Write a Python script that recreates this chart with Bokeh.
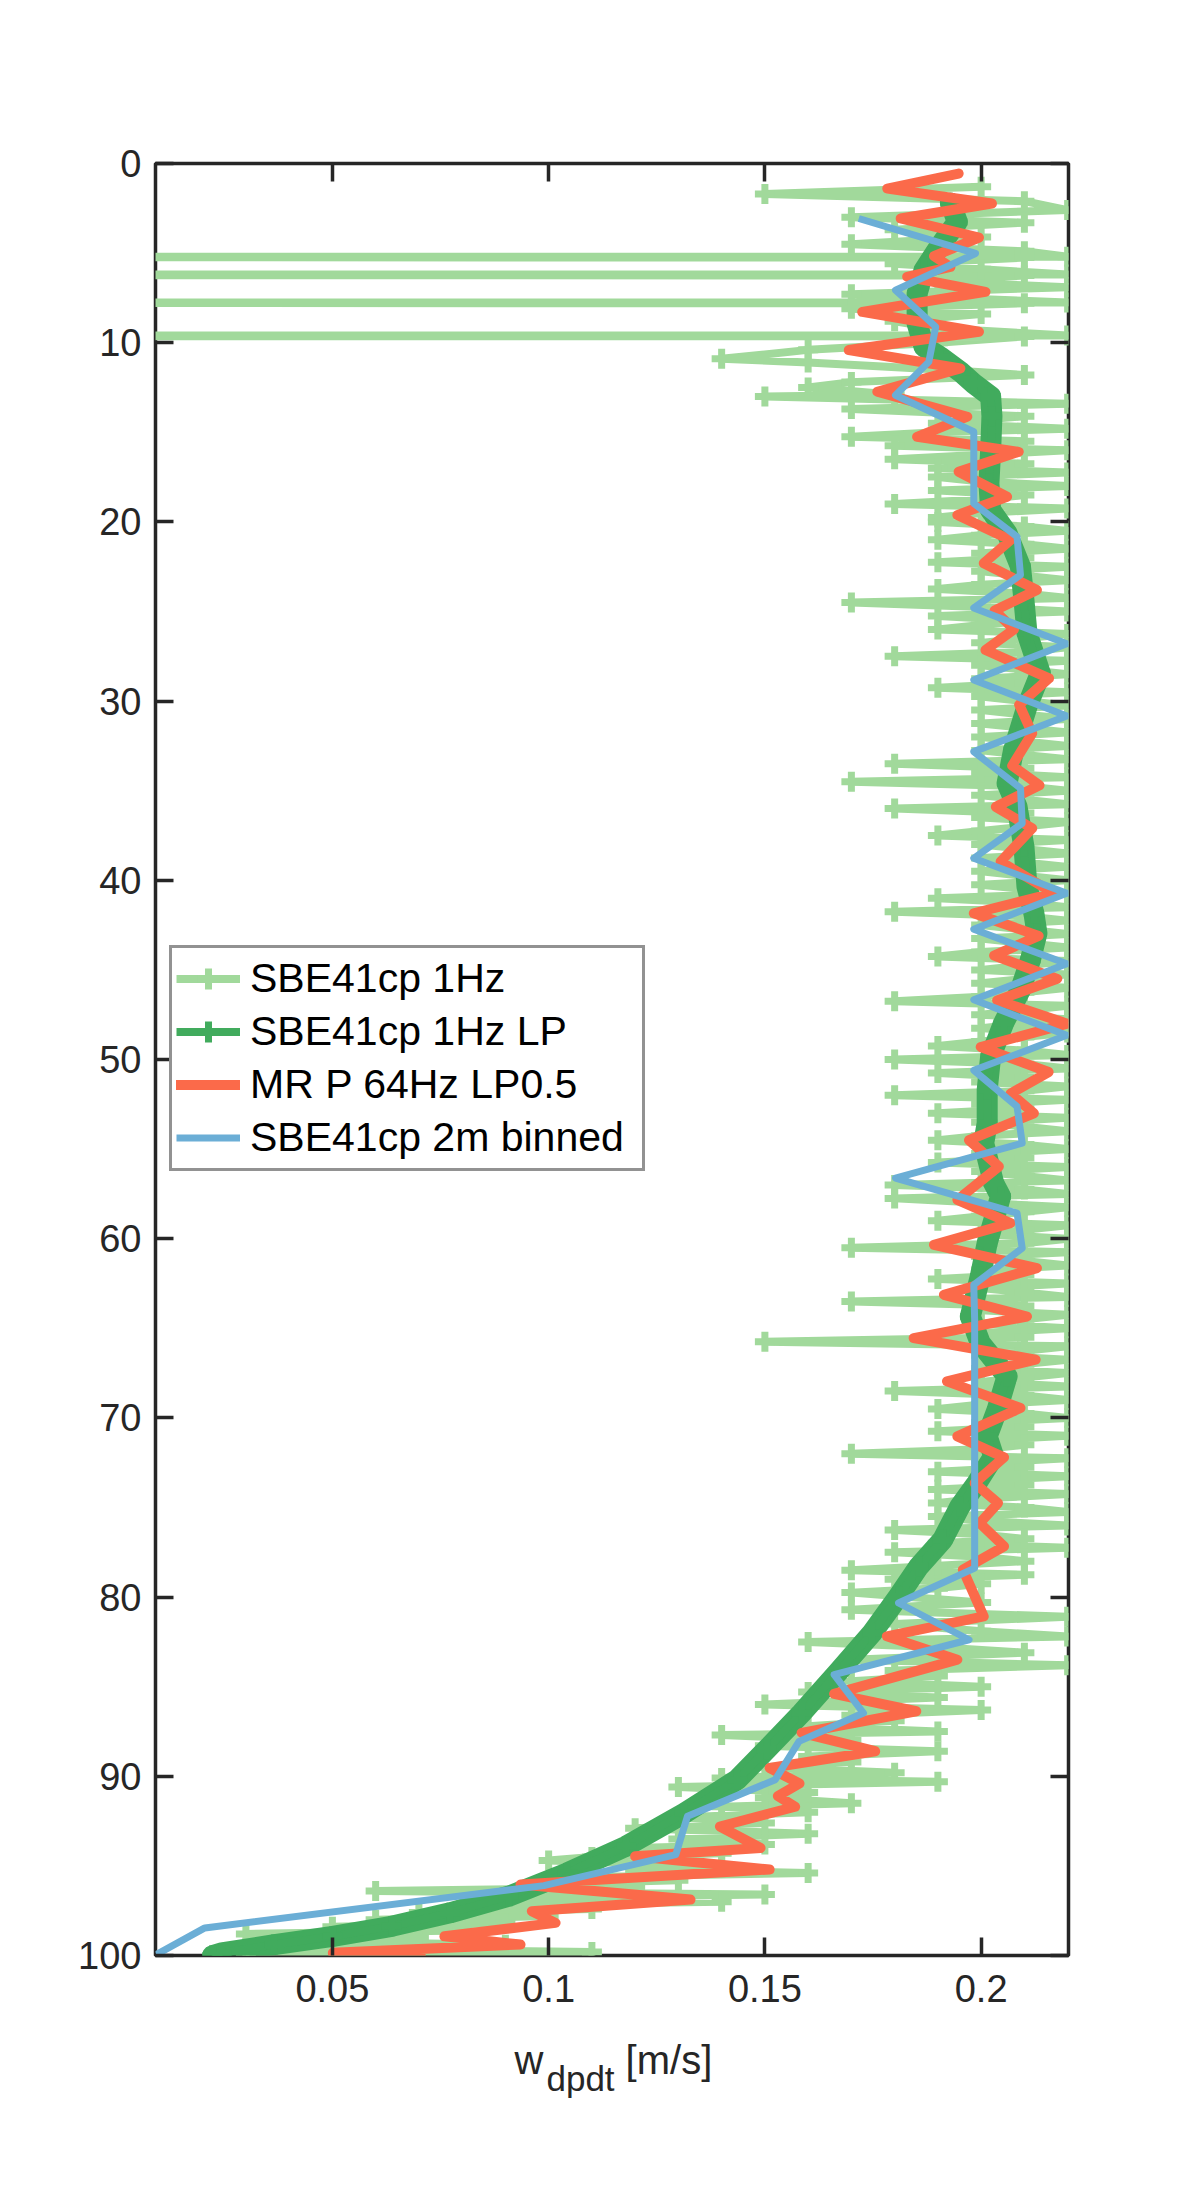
from bokeh.plotting import figure
from bokeh.layouts import column
from bokeh.models import Range1d, LinearAxis, FixedTicker, Legend, LegendItem
from bokeh.core.properties import value
from bokeh.embed import file_html
from bokeh.resources import INLINE

# ---------------- data ----------------
# SBE41cp 1Hz samples: depth [dbar] and w [m/s]
D_A = [1.3, 1.7, 2.1, 2.6, 3.0, 3.3, 3.7, 4.1, 4.5, 4.9, 5.2, 5.2, 5.25, 5.6, 5.9, 6.2, 6.2, 6.25,
       6.6, 6.9, 7.3, 7.75, 7.75, 7.8, 8.1, 8.4, 8.8, 9.2, 9.6, 9.6, 9.65, 10.0, 10.4, 10.9, 11.1,
       11.5, 11.8, 12.2, 12.5, 12.9, 13.0, 13.4, 13.7, 14.1, 14.5, 14.8]
W_A = [0.20, 0.15, 0.21, 0.22, 0.17, 0.21, 0.18, 0.20, 0.17, 0.21, 0.22, -0.5, 0.21, 0.18, 0.20,
       0.22, -0.5, 0.21, 0.19, 0.22, 0.17, 0.22, -0.5, 0.21, 0.17, 0.20, 0.18, 0.19, 0.22, -0.5,
       0.21, 0.19, 0.16, 0.14, 0.16, 0.19, 0.21, 0.17, 0.16, 0.18, 0.15, 0.22, 0.17, 0.21, 0.19, 0.22]
D_B = [15.0, 15.25, 15.5, 15.75, 16.0, 16.25, 16.5, 16.75, 17.0, 17.25, 17.5, 17.75, 18.0, 18.25, 18.5, 18.75, 19.0, 19.25, 19.5, 19.75,
       20.0, 20.25, 20.5, 20.75, 21.0, 21.25, 21.5, 21.75, 22.0, 22.25, 22.5, 22.75, 23.0, 23.25, 23.5, 23.75, 24.0, 24.25, 24.5, 24.75,
       25.0, 25.25, 25.5, 25.75, 26.0, 26.25, 26.5, 26.75, 27.0, 27.25, 27.5, 27.75, 28.0, 28.25, 28.5, 28.75, 29.0, 29.25, 29.5, 29.75]
W_B = [0.19, 0.17, 0.21, 0.18, 0.22, 0.20, 0.18, 0.21, 0.19, 0.22, 0.19, 0.20, 0.22, 0.19, 0.21, 0.20, 0.18, 0.22, 0.20, 0.19,
       0.19, 0.21, 0.22, 0.20, 0.19, 0.21, 0.22, 0.20, 0.21, 0.19, 0.22, 0.20, 0.21, 0.22, 0.20, 0.19, 0.21, 0.22, 0.17, 0.20,
       0.22, 0.19, 0.21, 0.20, 0.19, 0.22, 0.21, 0.20, 0.22, 0.21, 0.18, 0.22, 0.20, 0.21, 0.22, 0.20, 0.21, 0.19, 0.22, 0.20]
D_C = [30.0, 30.25, 30.5, 30.75, 31.0, 31.25, 31.5, 31.75, 32.0, 32.25, 32.5, 32.75, 33.0, 33.25, 33.5, 33.75, 34.0, 34.25, 34.5, 34.75,
       35.0, 35.25, 35.5, 35.75, 36.0, 36.25, 36.5, 36.75, 37.0, 37.25, 37.5, 37.75, 38.0, 38.25, 38.5, 38.75, 39.0, 39.25, 39.5, 39.75,
       40.0, 40.25, 40.5, 40.75, 41.0, 41.25, 41.5, 41.75, 42.0, 42.25, 42.5, 42.75, 43.0, 43.25, 43.5, 43.75, 44.0, 44.25, 44.5, 44.75,
       45.0, 45.25, 45.5, 45.75, 46.0, 46.25, 46.5, 46.75, 47.0, 47.25, 47.5, 47.75, 48.0, 48.25, 48.5, 48.75, 49.0, 49.25, 49.5, 49.75,
       50.0, 50.25, 50.5, 50.75, 51.0, 51.25, 51.5, 51.75, 52.0, 52.25, 52.5, 52.75, 53.0, 53.25, 53.5, 53.75, 54.0, 54.25, 54.5, 54.75]
W_C = [0.21, 0.22, 0.20, 0.21, 0.22, 0.20, 0.21, 0.22, 0.20, 0.21, 0.22, 0.20, 0.21, 0.22, 0.18, 0.21, 0.20, 0.22, 0.17, 0.21,
       0.22, 0.20, 0.21, 0.22, 0.18, 0.21, 0.20, 0.22, 0.21, 0.20, 0.19, 0.22, 0.20, 0.21, 0.22, 0.20, 0.21, 0.22, 0.20, 0.21,
       0.22, 0.20, 0.21, 0.22, 0.19, 0.21, 0.22, 0.18, 0.21, 0.22, 0.20, 0.21, 0.22, 0.20, 0.21, 0.22, 0.20, 0.19, 0.22, 0.21,
       0.20, 0.22, 0.21, 0.20, 0.22, 0.21, 0.20, 0.18, 0.22, 0.21, 0.20, 0.22, 0.21, 0.20, 0.22, 0.21, 0.20, 0.19, 0.21, 0.22,
       0.18, 0.21, 0.22, 0.19, 0.21, 0.20, 0.22, 0.21, 0.18, 0.22, 0.20, 0.21, 0.19, 0.22, 0.20, 0.21, 0.22, 0.20, 0.19, 0.21]
D_D = [55.0, 55.25, 55.5, 55.75, 56.0, 56.25, 56.5, 56.75, 57.0, 57.25, 57.5, 57.75, 58.0, 58.25, 58.5, 58.75, 59.0, 59.25, 59.5, 59.75,
       60.0, 60.25, 60.5, 60.75, 61.0, 61.25, 61.5, 61.75, 62.0, 62.25, 62.5, 62.75, 63.0, 63.25, 63.5, 63.75, 64.0, 64.25, 64.5, 64.75,
       65.0, 65.25, 65.5, 65.75, 66.0, 66.25, 66.5, 66.75, 67.0, 67.25, 67.5, 67.75, 68.0, 68.25, 68.5, 68.75, 69.0, 69.25, 69.5, 69.75,
       70.0, 70.25, 70.5, 70.75, 71.0, 71.25, 71.5, 71.75, 72.0, 72.25, 72.5, 72.75, 73.0, 73.25, 73.5, 73.75, 74.0, 74.25, 74.5, 74.75,
       75.0, 75.25, 75.5, 75.75, 76.0, 76.25, 76.5, 76.75, 77.0, 77.25, 77.5, 77.75, 78.0, 78.25, 78.5, 78.75, 79.0, 79.25, 79.5, 79.75]
W_D = [0.22, 0.20, 0.21, 0.19, 0.22, 0.20, 0.21, 0.22, 0.18, 0.21, 0.22, 0.18, 0.20, 0.22, 0.21, 0.20, 0.19, 0.22, 0.21, 0.20,
       0.22, 0.21, 0.17, 0.22, 0.20, 0.21, 0.22, 0.20, 0.21, 0.19, 0.22, 0.20, 0.21, 0.22, 0.17, 0.21, 0.20, 0.22, 0.21, 0.20,
       0.22, 0.20, 0.21, 0.15, 0.22, 0.21, 0.20, 0.22, 0.21, 0.20, 0.22, 0.21, 0.20, 0.22, 0.18, 0.21, 0.22, 0.20, 0.19, 0.21,
       0.22, 0.20, 0.21, 0.19, 0.22, 0.20, 0.21, 0.20, 0.17, 0.22, 0.20, 0.21, 0.19, 0.22, 0.20, 0.21, 0.19, 0.22, 0.20, 0.19,
       0.21, 0.22, 0.19, 0.20, 0.22, 0.18, 0.20, 0.21, 0.19, 0.22, 0.18, 0.20, 0.21, 0.19, 0.17, 0.21, 0.18, 0.20, 0.19, 0.17]
D_E = [80.3, 80.7, 81.1, 81.5, 81.9, 82.2, 82.5, 82.8, 83.1, 83.5,
       83.8, 84.1, 84.4, 84.7, 85.0, 85.3, 85.6, 86.0, 86.3, 86.6,
       86.9, 87.2, 87.5, 87.7, 88.0, 88.3, 88.6, 88.9, 89.2, 89.5,
       89.8, 90.1, 90.3, 90.6, 90.9, 91.2, 91.5, 91.7, 92.0, 92.3,
       92.6, 92.9, 93.2, 93.5, 93.8, 94.0, 94.3, 94.5, 94.7, 95.0,
       95.2, 95.4, 95.6, 95.8, 96.0, 96.2, 96.4, 96.6, 96.8, 97.0,
       97.2, 97.4, 97.6, 97.8, 98.0, 98.2, 98.4, 98.6, 98.8, 99.0,
       99.2, 99.4, 99.6, 99.8, 100.0]
W_E = [0.20, 0.17, 0.22, 0.18, 0.20, 0.22, 0.16, 0.19, 0.21, 0.17,
       0.22, 0.18, 0.19, 0.17, 0.20, 0.16, 0.19, 0.15, 0.20, 0.17,
       0.18, 0.16, 0.19, 0.14, 0.17, 0.15, 0.19, 0.16, 0.17, 0.15,
       0.18, 0.14, 0.19, 0.13, 0.16, 0.15, 0.17, 0.14, 0.16, 0.13,
       0.15, 0.12, 0.16, 0.13, 0.15, 0.12, 0.14, 0.11, 0.10, 0.14,
       0.12, 0.16, 0.11, 0.13, 0.10, 0.12, 0.06, 0.15, 0.09, 0.14,
       0.08, 0.11, 0.07, 0.10, 0.06, 0.09, 0.05, 0.08, 0.03, 0.07,
       0.04, 0.09, 0.03, 0.11, 0.03]

# SBE41cp 1Hz LP
LP_DEPTH = [2.2, 3.26, 4.84, 5.95, 7.25, 8.93, 10.23, 10.79, 11.62, 12.28, 13.0, 14.1, 16.0,
            17.85, 19.34, 20.64, 22.5, 24.36, 26.2, 28.45, 30.31, 32.73, 34.59, 35.89, 38.12,
            40.35, 41.84, 42.95, 44.44, 46.11, 47.97, 49.83, 51.69, 53.55, 54.67, 56.9, 57.64,
            60.25, 62.11, 64.34, 65.82, 66.75, 67.68, 69.54, 71.03, 72.15, 73.64, 74.94, 76.8,
            78.29, 79.96, 82.0, 84.24, 86.47, 88.51, 90.19, 92.05, 93.9, 95.39, 96.69, 97.62,
            98.37, 98.93, 99.39, 99.86, 100.0]
LP_W = [0.1929, 0.1945, 0.1898, 0.1868, 0.1852, 0.1852, 0.1868, 0.1906, 0.1952, 0.1983, 0.2022,
        0.2025, 0.2022, 0.2018, 0.2022, 0.2060, 0.2091, 0.2099, 0.2106, 0.2137, 0.2106, 0.2075,
        0.2060, 0.2083, 0.2099, 0.2106, 0.2122, 0.2129, 0.2114, 0.2091, 0.2052, 0.2022, 0.2014,
        0.2014, 0.2006, 0.2029, 0.2045, 0.2014, 0.1998, 0.1975, 0.1998, 0.2029, 0.2060, 0.2037,
        0.2014, 0.2029, 0.1990, 0.1951, 0.1911, 0.1856, 0.1809, 0.1748, 0.1667, 0.1585, 0.1504,
        0.1436, 0.1314, 0.1179, 0.1043, 0.0908, 0.0772, 0.0637, 0.0501, 0.0366, 0.0244, 0.0223]

# MR P 64Hz LP0.5
MR_DEPTH = [0.56, 1.40, 2.23, 3.07, 4.13, 5.17, 5.77, 6.32, 7.16, 8.28, 9.39, 10.41, 11.44, 12.74,
            14.13, 15.25, 16.09, 17.2, 18.6, 19.62, 21.01, 22.31, 23.8, 24.95, 26.0, 27.15, 28.73,
            30.2, 31.8, 33.6, 34.7, 35.9, 37.1, 38.96, 40.72, 41.84, 43.1, 44.2, 45.5, 46.7, 48.0,
            49.3, 50.7, 51.9, 53.0, 54.5, 55.97, 57.83, 59.13, 60.34, 61.64, 63.13, 64.34, 65.55,
            66.75, 67.96, 69.45, 71.03, 72.2, 73.64, 74.75, 75.87, 77.17, 78.47, 81.08, 82.19,
            83.49, 85.4, 86.37, 87.58, 88.6, 89.54, 90.4, 91.1, 91.7, 92.8, 94.0, 94.46, 95.2,
            96.04, 96.88, 97.53, 98.18, 98.93, 99.39, 99.85, 100.05]
MR_W = [0.1948, 0.1783, 0.2025, 0.1814, 0.1995, 0.1891, 0.1929, 0.1829, 0.2010, 0.1725, 0.1995,
        0.1694, 0.1952, 0.1760, 0.1968, 0.1852, 0.2087, 0.1948, 0.2060, 0.1945, 0.2068, 0.2006,
        0.2129, 0.2031, 0.2076, 0.2010, 0.2157, 0.2088, 0.2118, 0.2072, 0.2135, 0.2034, 0.2118,
        0.2045, 0.2168, 0.1983, 0.2133, 0.2030, 0.2176, 0.2037, 0.2199, 0.1999, 0.2156, 0.2068,
        0.2122, 0.1972, 0.2041, 0.1945, 0.2068, 0.1891, 0.2129, 0.1914, 0.2106, 0.1844, 0.2126,
        0.1921, 0.2091, 0.1945, 0.2053, 0.1985, 0.2039, 0.1997, 0.2053, 0.1958, 0.2006, 0.1782,
        0.1945, 0.1660, 0.1850, 0.1585, 0.1755, 0.1511, 0.1580, 0.1530, 0.1570, 0.1396, 0.1490,
        0.1200, 0.1511, 0.0935, 0.1328, 0.0961, 0.1016, 0.0759, 0.0935, 0.0501, 0.0705]

# SBE41cp 2m binned
BIN_DEPTH = [3.07, 5.02, 7.07, 9.11, 11.07, 12.93, 14.97, 16.97, 18.97, 20.83, 22.96, 24.8, 26.8,
             28.82, 30.83, 32.82, 34.86, 36.82, 38.77, 40.72, 42.73, 44.66, 46.67, 48.65, 50.6,
             52.62, 54.67, 56.62, 58.57, 60.53, 62.57, 64.5, 66.5, 68.5, 70.5, 72.5, 74.4, 76.4,
             78.38, 80.33, 82.38, 84.33, 86.47, 88.05, 90.19, 92.23, 94.37, 96.1, 98.46, 99.95]
BIN_W = [0.1717, 0.1987, 0.1802, 0.1895, 0.1879, 0.1802, 0.1983, 0.1983, 0.1983, 0.2083, 0.2091,
         0.1983, 0.2198, 0.1983, 0.2198, 0.1983, 0.2091, 0.2095, 0.1983, 0.2198, 0.1983, 0.2198,
         0.1983, 0.2198, 0.1983, 0.2083, 0.2095, 0.1802, 0.2083, 0.2095, 0.1983, 0.1985, 0.1985,
         0.1985, 0.1985, 0.1985, 0.1985, 0.1985, 0.1985, 0.1809, 0.1972, 0.1660, 0.1728, 0.1579,
         0.1524, 0.1321, 0.1294, 0.0989, 0.0205, 0.0093]

Y_TICKS = [0, 10, 20, 30, 40, 50, 60, 70, 80, 90, 100]
X_TICKS = [0.05, 0.1, 0.15, 0.2]
X_TICK_LABELS = ["0.05", "0.1", "0.15", "0.2"]
LABELS = ["SBE41cp 1Hz", "SBE41cp 1Hz LP", "MR P 64Hz LP0.5", "SBE41cp 2m binned"]
XLABEL_MAIN = "w"
XLABEL_SUB = "dpdt"
XLABEL_UNIT = "[m/s]"

DEPTH_1HZ = D_A + D_B + D_C + D_D + D_E
W_1HZ = W_A + W_B + W_C + W_D + W_E
N1 = min(len(DEPTH_1HZ), len(W_1HZ))
DEPTH_1HZ, W_1HZ = DEPTH_1HZ[:N1], W_1HZ[:N1]

# ---------------- styling ----------------
C_LIGHT = "#a1d99b"
C_DARK = "#41ab5d"
C_RED = "#fb6a4a"
C_BLUE = "#6baed6"
AX = "#262626"
FONT = "Liberation Sans"

X0, X1 = 0.0091, 0.2202
x_range = Range1d(X0, X1)

p = figure(frame_width=913, frame_height=1792,
           min_border_left=155, min_border_right=105, min_border_top=163, min_border_bottom=80,
           x_range=x_range, y_range=Range1d(100, 0),
           output_backend="svg", toolbar_location=None, tools="")
p.background_fill_color = "white"
p.border_fill_color = "white"
p.xgrid.visible = False
p.ygrid.visible = False
p.outline_line_color = AX
p.outline_line_width = 3.5
p.outline_line_alpha = 1.0


def style_axis(ax, ticks, overrides, show_labels, standoff):
    ax.ticker = FixedTicker(ticks=ticks)
    ax.axis_line_color = None
    ax.major_tick_line_color = AX
    ax.major_tick_line_width = 3.5
    ax.major_tick_in = 18
    ax.major_tick_out = 0
    ax.minor_tick_line_color = None
    ax.major_label_text_font = FONT
    ax.major_label_text_font_size = "38px"
    ax.major_label_text_color = AX
    ax.major_label_standoff = standoff
    if show_labels:
        if overrides:
            ax.major_label_overrides = overrides
    else:
        ax.major_label_overrides = {t: "" for t in ticks}


style_axis(p.xaxis[0], X_TICKS, dict(zip(X_TICKS, X_TICK_LABELS)), True, 19)
style_axis(p.yaxis[0], Y_TICKS, None, True, 14)
right_ax = LinearAxis()
top_ax = LinearAxis()
style_axis(right_ax, Y_TICKS, None, False, 4)
style_axis(top_ax, X_TICKS, None, False, 4)
p.add_layout(right_ax, "right")
p.add_layout(top_ax, "above")

# ---------------- glyphs ----------------
r_1hz_line = p.line(W_1HZ, DEPTH_1HZ, line_color=C_LIGHT, line_width=8, line_join="round")
r_1hz_mark = p.scatter(W_1HZ, DEPTH_1HZ, marker="cross", size=20, line_color=C_LIGHT, line_width=7)

p.line(LP_W, LP_DEPTH, line_color=C_DARK, line_width=21, line_join="round", line_cap="round")
r_lp_line = p.line(LP_W, LP_DEPTH, line_color=C_DARK, line_width=8, line_join="round")
r_lp_mark = p.scatter(LP_W, LP_DEPTH, marker="cross", size=20, line_color=C_DARK, line_width=7)

r_mr = p.line(MR_W, MR_DEPTH, line_color=C_RED, line_width=10, line_join="round", line_cap="round")
r_bin = p.line(BIN_W, BIN_DEPTH, line_color=C_BLUE, line_width=7, line_join="round")

legend = Legend(items=[
    LegendItem(label=LABELS[0], renderers=[r_1hz_line, r_1hz_mark]),
    LegendItem(label=LABELS[1], renderers=[r_lp_line, r_lp_mark]),
    LegendItem(label=LABELS[2], renderers=[r_mr]),
    LegendItem(label=LABELS[3], renderers=[r_bin]),
], location=(14, 784))
legend.margin = 0
legend.padding = 4
legend.spacing = 0
legend.glyph_width = 64
legend.glyph_height = 53
legend.label_height = 53
legend.label_width = 388
legend.label_standoff = 10
legend.label_text_font = FONT
legend.label_text_font_size = "41px"
legend.label_text_color = "black"
legend.border_line_color = AX
legend.border_line_width = 3
legend.background_fill_color = "white"
legend.background_fill_alpha = 1.0
p.add_layout(legend, "center")

# ---------------- x-axis label strip: w_dpdt [m/s] ----------------
p2 = figure(frame_width=913, frame_height=150,
            min_border_left=155, min_border_right=105, min_border_top=0, min_border_bottom=0,
            x_range=x_range, y_range=Range1d(0, 150),
            output_backend="svg", toolbar_location=None, tools="")
p2.axis.visible = False
p2.xgrid.visible = False
p2.ygrid.visible = False
p2.outline_line_color = None
p2.background_fill_color = "white"
p2.border_fill_color = "white"
p2.text(x=[0.0921, 0.1178], y=[126, 126], text=[XLABEL_MAIN, XLABEL_UNIT],
        text_font=value(FONT), text_font_size="40px", text_color=AX,
        text_baseline="alphabetic", text_align="left")
p2.text(x=[0.0995], y=[107], text=[XLABEL_SUB],
        text_font=value(FONT), text_font_size="35px", text_color=AX,
        text_baseline="alphabetic", text_align="left")

layout = column(p, p2, spacing=0)
open("out.html", "w").write(file_html(layout, INLINE))
